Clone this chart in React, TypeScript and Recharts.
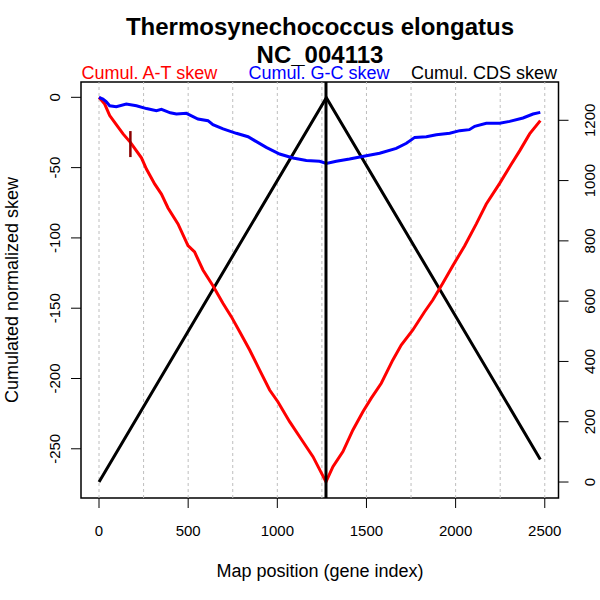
import React from 'react';
import {
  ComposedChart,
  Line,
  XAxis,
  YAxis,
  ReferenceLine,
  ReferenceArea,
} from 'recharts';

// cumulative A-T skew (left axis)
const atPos = [0, 32, 60, 97, 135, 176, 238, 266, 312, 350, 387, 443, 499, 536, 583, 639, 695, 742, 789, 845, 901, 957, 1003, 1069, 1144, 1200, 1273, 1312, 1368, 1424, 1480, 1527, 1583, 1648, 1695, 1760, 1826, 1872, 1928, 1985, 2051, 2116, 2172, 2247, 2313, 2360, 2415, 2475];
const atSkew = [0, -4.8, -13, -19.5, -26, -32, -43, -51, -61.6, -68.8, -78.7, -90, -105.5, -110, -122.8, -134, -146.5, -156, -166.7, -179.7, -194, -208.2, -216.5, -230.7, -245, -255.6, -273.5, -262.7, -252, -236.6, -223.6, -214, -203.4, -186.8, -176.2, -165.5, -152.5, -144.2, -132.3, -119.7, -105.5, -90, -75.9, -61.2, -47.4, -37.9, -26, -16.6];

// cumulative G-C skew (left axis)
const gcPos = [0, 22, 40, 60, 97, 153, 210, 266, 322, 350, 400, 434, 490, 555, 611, 639, 696, 770, 836, 873, 938, 1013, 1088, 1163, 1237, 1275, 1331, 1405, 1499, 1574, 1667, 1724, 1771, 1836, 1892, 1967, 2023, 2077, 2107, 2172, 2247, 2303, 2378, 2434, 2475];
const gcSkew = [0, -1.2, -3, -6, -6.7, -4.8, -6, -8, -9.5, -8.6, -11, -11.9, -11.4, -15.4, -16.6, -19.5, -22.5, -25.6, -28, -30.8, -35.6, -40.3, -43.2, -45, -45.5, -47, -45.5, -43.9, -41.5, -39.8, -36.3, -32.7, -28.5, -28, -26.6, -25.6, -23.7, -23, -20.6, -18.5, -18.5, -17.1, -14.7, -11.9, -10.7];

// cumulative CDS skew (right axis)
const cdsPos = [0, 1275, 2475];
const cdsSkew = [0, 1275, 75];

// origin marker and terminus line
const markerPos = 176;
const markerSkew = [-24, -42.5];
const terminusPos = 1273;

const xTicks = [0, 500, 1000, 1500, 2000, 2500];
const gridPos = [0, 250, 500, 750, 1000, 1250, 1500, 1750, 2000, 2250, 2500];
const leftTicks = [0, -50, -100, -150, -200, -250];
const rightTicks = [0, 200, 400, 600, 800, 1000, 1200];

const xDomain = [-101, 2577];
const leftDomain = [-285, 10.9];
const rightDomain = [-53, 1327];

const FONT = '"Liberation Sans", Arial, Helvetica, sans-serif';

const toRows = (xs: number[], ys: number[]) => xs.map((x, i) => ({ x, y: ys[i] }));

const BottomTick = ({ x, y, payload }: any) => (
  <text x={x} y={y + 27.5} textAnchor="middle" fontSize={15} fontFamily={FONT} fill="#000">
    {payload.value}
  </text>
);

const LeftTick = ({ x, y, payload }: any) => (
  <text
    x={x - 11}
    y={y}
    transform={`rotate(-90 ${x - 11} ${y})`}
    textAnchor="middle"
    fontSize={15}
    fontFamily={FONT}
    fill="#000"
  >
    {payload.value}
  </text>
);

const RightTick = ({ x, y, payload }: any) => (
  <text
    x={x + 26.5}
    y={y}
    transform={`rotate(-90 ${x + 26.5} ${y})`}
    textAnchor="middle"
    fontSize={15}
    fontFamily={FONT}
    fill="#000"
  >
    {payload.value}
  </text>
);

export default function App() {
  return (
    <div style={{ position: 'absolute', left: 0, top: 0, width: 600, height: 600, background: '#fff' }}>
      <ComposedChart
        width={600}
        height={600}
        margin={{ top: 82, right: 0, bottom: 42, left: 0 }}
      >
        <XAxis
          type="number"
          dataKey="x"
          domain={xDomain}
          ticks={xTicks}
          allowDataOverflow
          height={60}
          axisLine={false}
          tickSize={10}
          tickMargin={0}
          stroke="#000"
          tick={<BottomTick />}
        />
        <YAxis
          yAxisId="left"
          type="number"
          domain={leftDomain}
          ticks={leftTicks}
          allowDataOverflow
          width={81}
          axisLine={false}
          tickSize={10}
          tickMargin={0}
          stroke="#000"
          tick={<LeftTick />}
        />
        <YAxis
          yAxisId="right"
          orientation="right"
          type="number"
          domain={rightDomain}
          ticks={rightTicks}
          allowDataOverflow
          width={41.5}
          axisLine={false}
          tickSize={10}
          tickMargin={0}
          stroke="#000"
          tick={<RightTick />}
        />
        {gridPos.map((g) => (
          <ReferenceLine key={g} x={g} yAxisId="left" stroke="#BEBEBE" strokeDasharray="3 3" strokeWidth={1} />
        ))}
        <ReferenceArea
          x1={xDomain[0]}
          x2={xDomain[1]}
          y1={leftDomain[0]}
          y2={leftDomain[1]}
          yAxisId="left"
          fill="none"
          fillOpacity={0}
          stroke="#000"
          strokeWidth={1.5}
          ifOverflow="visible"
        />
        <Line
          data={toRows(cdsPos, cdsSkew)}
          dataKey="y"
          yAxisId="right"
          type="linear"
          stroke="#000"
          strokeWidth={3}
          dot={false}
          isAnimationActive={false}
        />
        <Line
          data={toRows(atPos, atSkew)}
          dataKey="y"
          yAxisId="left"
          type="linear"
          stroke="#FF0000"
          strokeWidth={3}
          dot={false}
          isAnimationActive={false}
        />
        <Line
          data={toRows(gcPos, gcSkew)}
          dataKey="y"
          yAxisId="left"
          type="linear"
          stroke="#0000FF"
          strokeWidth={3}
          dot={false}
          isAnimationActive={false}
        />
        <ReferenceLine x={terminusPos} yAxisId="left" stroke="#000" strokeWidth={3} />
        <ReferenceLine
          yAxisId="left"
          segment={[
            { x: markerPos, y: markerSkew[0] },
            { x: markerPos, y: markerSkew[1] },
          ]}
          stroke="#8B0000"
          strokeWidth={2.5}
        />
      </ComposedChart>
      <svg
        width={600}
        height={600}
        style={{ position: 'absolute', left: 0, top: 0, pointerEvents: 'none' }}
        fontFamily={FONT}
      >
        <text x={320} y={35} textAnchor="middle" fontSize={24} fontWeight="bold" fill="#000">
          Thermosynechococcus elongatus
        </text>
        <text x={320} y={63} textAnchor="middle" fontSize={24} fontWeight="bold" fill="#000">
          NC_004113
        </text>
        <text x={81.5} y={79} textAnchor="start" fontSize={18} fill="#FF0000">
          Cumul. A-T skew
        </text>
        <text x={319} y={79} textAnchor="middle" fontSize={18} fill="#0000FF">
          Cumul. G-C skew
        </text>
        <text x={557} y={79} textAnchor="end" fontSize={18} fill="#000">
          Cumul. CDS skew
        </text>
        <text x={320} y={577} textAnchor="middle" fontSize={18} fill="#000">
          Map position (gene index)
        </text>
        <text x={18} y={290} transform="rotate(-90 18 290)" textAnchor="middle" fontSize={18} fill="#000">
          Cumulated normalized skew
        </text>
      </svg>
    </div>
  );
}
